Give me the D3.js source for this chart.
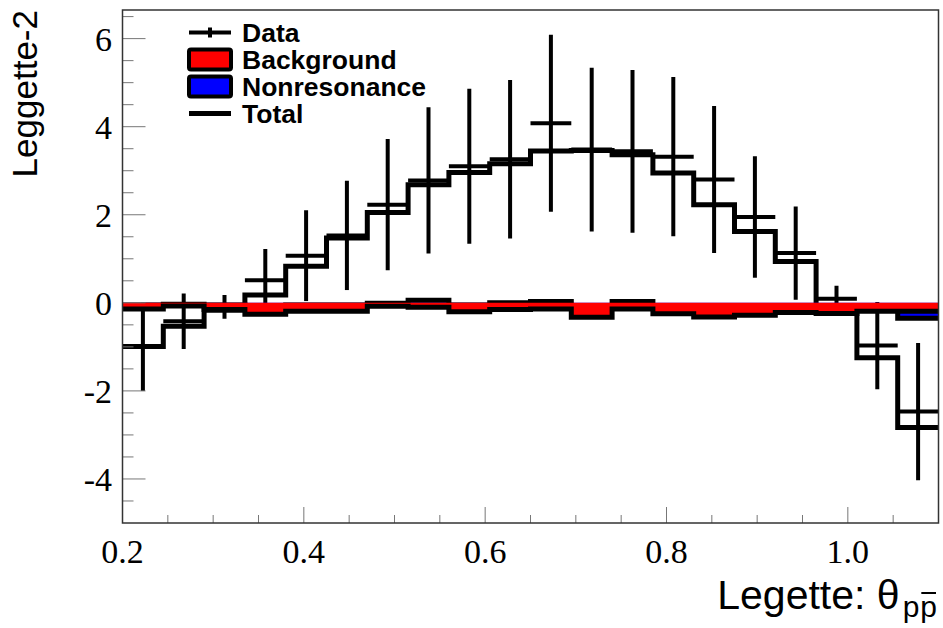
<!DOCTYPE html>
<html>
<head>
<meta charset="utf-8">
<script src="https://cdn.jsdelivr.net/npm/d3@7/dist/d3.min.js"></script>
<style>
  body { margin: 0; background: #fff; }
  svg { display: block; }
</style>
</head>
<body>
<svg id="chart" width="943" height="628"></svg>
<script>
// Histogram binning (20 bins of width 0.045)
const binEdges = [0.2, 0.245, 0.29, 0.335, 0.38, 0.425, 0.47, 0.515, 0.56, 0.605,
                  0.65, 0.695, 0.74, 0.785, 0.83, 0.875, 0.92, 0.965, 1.01, 1.055, 1.1];

// Observed data with statistical errors
const dataValues = [-1.00, -0.42, -0.09, 0.51, 1.07, 1.53, 2.23, 2.78, 3.10, 3.26,
                    4.08, 3.48, 3.44, 3.32, 2.80, 1.95, 1.13, 0.09, -0.97, -2.47];
const dataErrors = [1.00, 0.63, 0.27, 0.71, 1.03, 1.24, 1.49, 1.66, 1.76, 1.80,
                    2.01, 1.86, 1.85, 1.81, 1.67, 1.38, 1.06, 0.30, 0.99, 1.56];

// Fit components
const totalValues = [-0.99, -0.53, -0.17, 0.18, 0.83, 1.47, 2.05, 2.68, 2.96, 3.16,
                     3.45, 3.46, 3.36, 2.95, 2.23, 1.62, 0.94, -0.22, -1.25, -2.83];
const backgroundValues = [-0.14, -0.07, -0.15, -0.26, -0.19, -0.19, -0.08, -0.10, -0.20, -0.15,
                          -0.14, -0.33, -0.14, -0.25, -0.32, -0.28, -0.22, -0.24, -0.19, -0.19];
const nonresonanceValues = [-0.05, -0.03, -0.05, -0.10, -0.05, -0.05, -0.01, 0.06, -0.05, 0.00,
                            0.03, -0.10, 0.03, -0.10, -0.10, -0.10, -0.10, -0.10, -0.10, -0.35];

// Axis ticks
const xTickValues = [0.2, 0.4, 0.6, 0.8, 1.0];
const xTickLabels = ["0.2", "0.4", "0.6", "0.8", "1.0"];
const xMinorTicks = [0.25, 0.3, 0.35, 0.45, 0.5, 0.55, 0.65, 0.7, 0.75, 0.85, 0.9, 0.95, 1.05, 1.1];
const yTickValues = [-4, -2, 0, 2, 4, 6];
const yTickLabels = ["-4", "-2", "0", "2", "4", "6"];
const yMinorTicks = [-4.5, -3.5, -3, -2.5, -1.5, -1, -0.5, 0.5, 1, 1.5, 2.5, 3, 3.5, 4.5, 5, 5.5, 6.5];

const legendEntries = [
  { label: "Data", kind: "data" },
  { label: "Background", kind: "box", fill: "#ff0000" },
  { label: "Nonresonance", kind: "box", fill: "#0000ff" },
  { label: "Total", kind: "line" }
];

// Frame geometry
const frame = { left: 122.5, right: 938.5, top: 10, bottom: 523 };

const svg = d3.select("#chart");

const x = d3.scaleLinear().domain([0.2, 1.1]).range([frame.left, frame.right]);
const y = d3.scaleLinear().domain([-5, 6.65]).range([frame.bottom, frame.top]);

svg.append("defs").append("clipPath").attr("id", "frameClip")
  .append("rect")
  .attr("x", frame.left).attr("y", frame.top)
  .attr("width", frame.right - frame.left).attr("height", frame.bottom - frame.top);

const plot = svg.append("g").attr("clip-path", "url(#frameClip)");

// step-shape helpers: one point per lower edge, plus the final upper edge
const stepPoints = vals => vals.map((v, i) => [binEdges[i], v]).concat([[binEdges[vals.length], vals[vals.length - 1]]]);
const stepLine = d3.line().x(d => x(d[0])).y(d => y(d[1])).curve(d3.curveStepAfter);
const stepArea = d3.area().x(d => x(d[0])).y0(y(0)).y1(d => y(d[1])).curve(d3.curveStepAfter);

const centers = binEdges.slice(0, -1).map((e, i) => (e + binEdges[i + 1]) / 2);

// Data points: bin-wide horizontal bar and vertical error bar
const dataG = plot.append("g").attr("stroke", "#000").attr("stroke-width", 4);
dataG.selectAll("line.h").data(dataValues).join("line").attr("class", "h")
  .attr("x1", (d, i) => x(binEdges[i])).attr("x2", (d, i) => x(binEdges[i + 1]))
  .attr("y1", d => y(d)).attr("y2", d => y(d));
dataG.selectAll("line.v").data(dataValues).join("line").attr("class", "v")
  .attr("x1", (d, i) => x(centers[i])).attr("x2", (d, i) => x(centers[i]))
  .attr("y1", (d, i) => y(d + dataErrors[i])).attr("y2", (d, i) => y(d - dataErrors[i]));

// Total fit
plot.append("path").attr("d", stepLine(stepPoints(totalValues)))
  .attr("fill", "none").attr("stroke", "#000").attr("stroke-width", 5)
  .attr("stroke-linejoin", "miter");

// Nonresonance component
plot.append("path").attr("d", stepArea(stepPoints(nonresonanceValues)))
  .attr("fill", "#0000ff").attr("stroke", "none");
plot.append("path").attr("d", stepLine(stepPoints(nonresonanceValues)))
  .attr("fill", "none").attr("stroke", "#000").attr("stroke-width", 5);

// Background component
plot.append("path").attr("d", stepArea(stepPoints(backgroundValues)))
  .attr("fill", "#ff0000").attr("stroke", "none");
plot.append("path").attr("d", stepLine(stepPoints(backgroundValues)))
  .attr("fill", "none").attr("stroke", "#000").attr("stroke-width", 5);

// Ticks
const tickG = svg.append("g").attr("stroke", "#777").attr("stroke-width", 1);
tickG.selectAll("line.xmaj").data(xTickValues).join("line")
  .attr("x1", d => x(d)).attr("x2", d => x(d)).attr("y1", frame.bottom).attr("y2", frame.bottom - 16);
tickG.selectAll("line.xmin").data(xMinorTicks).join("line")
  .attr("x1", d => x(d)).attr("x2", d => x(d)).attr("y1", frame.bottom).attr("y2", frame.bottom - 8);
tickG.selectAll("line.ymaj").data(yTickValues).join("line")
  .attr("x1", frame.left).attr("x2", frame.left + 23).attr("y1", d => y(d)).attr("y2", d => y(d));
tickG.selectAll("line.ymin").data(yMinorTicks).join("line")
  .attr("x1", frame.left).attr("x2", frame.left + 11).attr("y1", d => y(d)).attr("y2", d => y(d));

// Frame
svg.append("rect")
  .attr("x", frame.left).attr("y", frame.top)
  .attr("width", frame.right - frame.left).attr("height", frame.bottom - frame.top)
  .attr("fill", "none").attr("stroke", "#333").attr("stroke-width", 1.5);

// Tick labels
const serif = "'Liberation Serif', 'DejaVu Serif', serif";
svg.append("g").selectAll("text").data(xTickValues).join("text")
  .attr("x", d => x(d)).attr("y", 563)
  .attr("text-anchor", "middle").attr("font-family", serif).attr("font-size", 34)
  .text((d, i) => xTickLabels[i]);
svg.append("g").selectAll("text").data(yTickValues).join("text")
  .attr("x", 112).attr("y", d => y(d) + 12)
  .attr("text-anchor", "end").attr("font-family", serif).attr("font-size", 34)
  .text((d, i) => yTickLabels[i]);

// Axis titles
const sans = "'Liberation Sans', Arial, sans-serif";
svg.append("text")
  .attr("transform", `translate(37, ${frame.top}) rotate(-90)`)
  .attr("text-anchor", "end").attr("font-family", sans).attr("font-size", 35)
  .text("Leggette-2");

// x title: main part, then a "p pbar" subscript with an overline on the second p
const xTitle = svg.append("g").attr("font-family", sans);
const subSize = 30;
const subBase = 617;
const subEnd = 937;
const subP2 = xTitle.append("text").attr("font-size", subSize).attr("y", subBase).text("p");
const pw = subP2.node().getComputedTextLength();
subP2.attr("x", subEnd - pw);
xTitle.append("text").attr("font-size", subSize).attr("y", subBase).attr("x", subEnd - 2 * pw - 1).text("p");
xTitle.append("line")
  .attr("x1", subEnd - pw + 1).attr("x2", subEnd - 1)
  .attr("y1", subBase - 24).attr("y2", subBase - 24)
  .attr("stroke", "#000").attr("stroke-width", 2);
xTitle.append("text").attr("font-size", 41).attr("y", 609)
  .attr("x", subEnd - 2 * pw - 4).attr("text-anchor", "end")
  .text("Legette: θ");

// Legend
const legend = svg.append("g");
const rowY = [32.5, 59.5, 86.5, 113.5];
const symL = 189, symR = 231, textX = 242;
legendEntries.forEach((e, i) => {
  const cy = rowY[i];
  if (e.kind === "data") {
    legend.append("line").attr("x1", symL).attr("x2", symR).attr("y1", cy).attr("y2", cy)
      .attr("stroke", "#000").attr("stroke-width", 4);
    legend.append("line").attr("x1", (symL + symR) / 2).attr("x2", (symL + symR) / 2)
      .attr("y1", cy - 5).attr("y2", cy + 5).attr("stroke", "#000").attr("stroke-width", 4);
  } else if (e.kind === "box") {
    legend.append("rect").attr("x", symL).attr("y", cy - 10).attr("width", symR - symL).attr("height", 20)
      .attr("fill", e.fill).attr("stroke", "#000").attr("stroke-width", 4)
      .attr("stroke-linejoin", "round").attr("rx", 2);
  } else {
    legend.append("line").attr("x1", symL).attr("x2", symR).attr("y1", cy).attr("y2", cy)
      .attr("stroke", "#000").attr("stroke-width", 5);
  }
  legend.append("text").attr("x", textX).attr("y", cy + 9)
    .attr("font-family", sans).attr("font-weight", "bold").attr("font-size", 26.5)
    .text(e.label);
});
</script>
</body>
</html>
